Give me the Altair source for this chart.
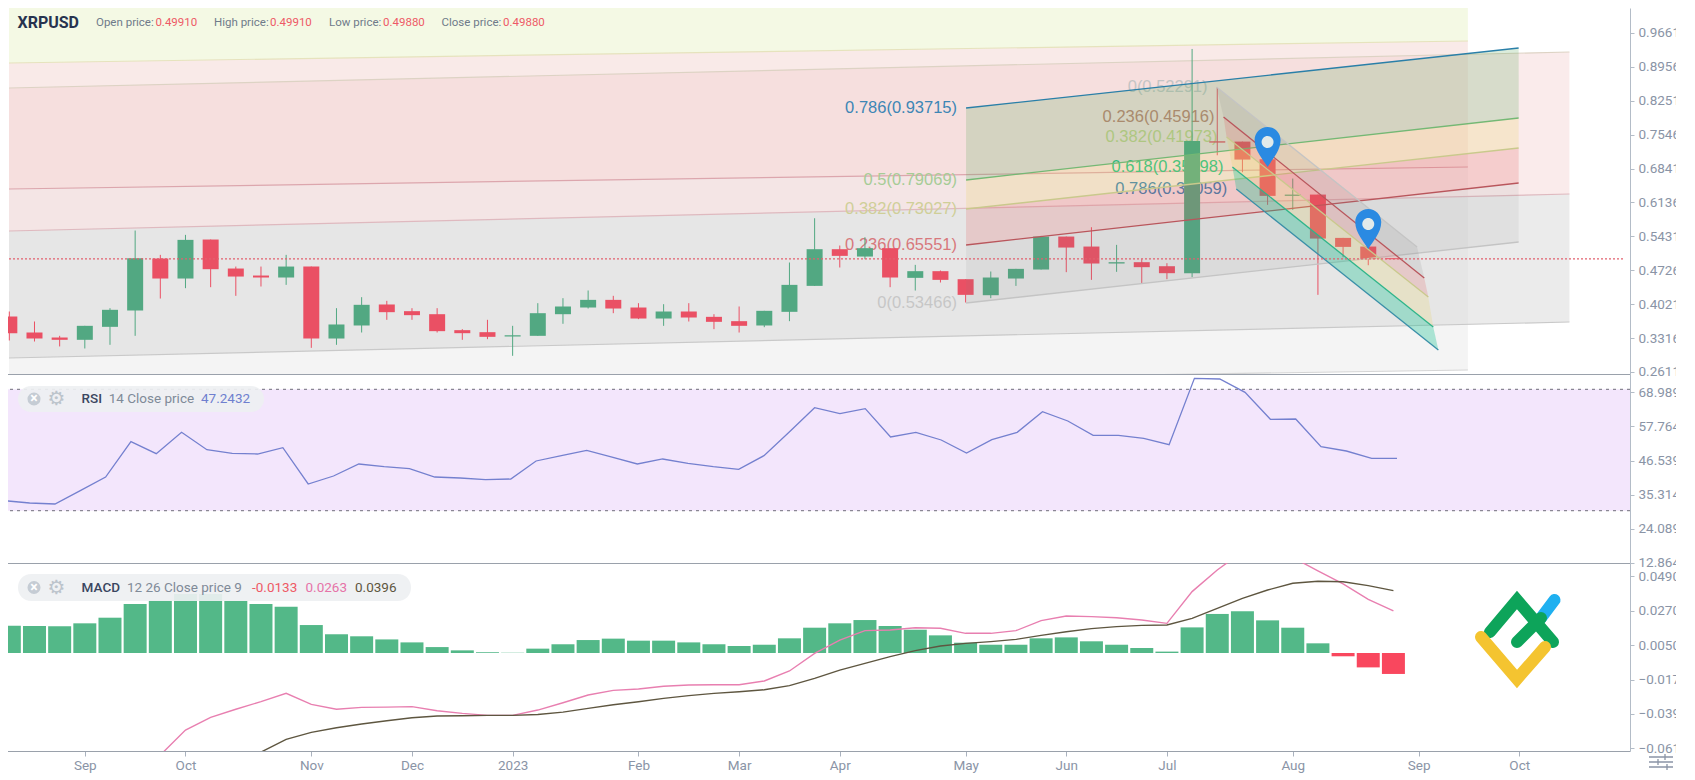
import altair as alt
import pandas as pd

WEEKS = pd.date_range("2022-08-15", periods=56, freq="7D").strftime("%Y-%m-%dT%H:%M:%S").tolist()

OPEN = [.3764,.3431,.3327,.3279,.3549,.3889,.4970,.4554,.5365,.4762,.4616,.4575,.4803,.3306,.3577,.4014,.3875,.3812,.3480,.3438,
        .3348,.3362,.3812,.3951,.4110,.3951,.3722,.3868,.3757,.3667,.3577,.3861,.4401,.5164,.5011,.5185,.4568,.4707,.4540,.4207,
        .4554,.4741,.5427,.5219,.4866,.4894,.4810,.4665,.7409,.7402,.7035,.6273,.6300,.5399,.5219,.4977]
HIGH = [.3868,.3660,.3362,.3570,.3937,.5552,.5046,.5462,.5365,.4803,.4803,.5046,.4803,.3937,.4166,.4090,.3937,.3937,.3501,.3695,
        .3570,.4041,.4145,.4305,.4194,.4041,.4020,.4041,.3812,.3972,.3882,.4887,.5808,.5240,.5414,.5185,.4838,.4721,.4540,.4700,
        .4755,.5441,.5427,.5621,.5254,.4956,.4873,.9329,.8532,.7402,.7035,.6633,.6300,.5399,.5219,.4977]
LOW = [.3265,.3244,.3141,.3099,.3175,.3362,.4138,.4353,.4374,.4194,.4388,.4422,.3112,.3175,.3431,.3695,.3695,.3431,.3279,.3293,
       .2946,.3362,.3612,.3930,.3833,.3709,.3570,.3660,.3501,.3431,.3542,.3667,.4401,.4783,.4956,.4374,.4304,.4471,.4055,.4145,
       .4401,.4741,.4686,.4526,.4693,.4457,.4540,.4582,.7118,.6765,.6086,.5981,.4214,.4997,.4831,.4956]
CLOSE = [.3417,.3306,.3279,.3570,.3903,.4977,.4554,.5358,.4748,.4595,.4575,.4803,.3306,.3598,.4007,.3854,.3792,.3459,.3417,.3341,
         .3376,.3833,.3972,.4110,.3930,.3722,.3868,.3743,.3653,.3570,.3882,.4422,.5164,.5025,.5185,.4575,.4707,.4526,.4214,.4575,
         .4755,.5427,.5198,.4866,.4894,.4790,.4665,.7416,.7381,.7028,.6273,.6300,.5385,.5212,.4956,.4956]

RSI = [33.31,32.54,32.21,36.60,41.10,52.75,48.79,55.82,50.11,48.90,48.68,50.77,38.80,41.43,45.39,44.51,43.85,41.10,40.78,40.23,
       40.45,46.38,48.13,49.89,47.69,45.39,47.04,45.61,44.51,43.63,48.13,55.93,63.95,61.97,63.62,54.28,55.82,53.30,49.01,53.41,
       55.82,62.63,59.56,54.83,54.83,53.84,51.76,73.61,73.39,69.00,60.11,60.21,51.10,49.67,47.26,47.26]

HIST = [.0175,.0173,.0171,.0190,.0226,.0313,.0335,.0378,.0378,.0333,.0313,.0296,.0179,.0120,.0107,.0087,.0068,.0038,.0017,.0005,
        .0001,.0028,.0056,.0083,.0092,.0079,.0079,.0068,.0056,.0045,.0053,.0094,.0162,.0190,.0211,.0173,.0149,.0113,.0066,.0053,
        .0053,.0094,.0100,.0075,.0053,.0032,.0009,.0164,.0250,.0267,.0209,.0162,.0062,-.0021,-.0092,-.0134]
MACD = [-.0834,-.0653,-.0493,-.0412,-.0360,-.0311,-.0258,-.0329,-.0360,-.0348,-.0346,-.0343,-.0369,-.0386,-.0399,-.0399,-.0365,
        -.0318,-.0269,-.0239,-.0230,-.0213,-.0205,-.0203,-.0203,-.0179,-.0115,-.0002,.0083,.0143,.0147,.0162,.0158,.0126,.0126,
        .0143,.0207,.0237,.0233,.0226,.0211,.0190,.0393,.0531,.0649,.0670,.0612,.0525,.0442,.0343,.0269]
SIGNAL = [-.0717,-.0634,-.0553,-.0508,-.0478,-.0454,-.0433,-.0414,-.0403,-.0401,-.0399,-.0399,-.0393,-.0378,-.0354,-.0331,-.0312,
          -.0290,-.0273,-.0258,-.0248,-.0235,-.0209,-.0162,-.0109,-.0066,-.0023,.0015,.0045,.0062,.0073,.0087,.0113,.0136,.0156,
          .0169,.0177,.0179,.0222,.0286,.0350,.0403,.0446,.0459,.0456,.0431,.0399]

X_DOMAIN = ["2022-08-14T21:50:00", "2023-11-07T10:00:00"]
PRICE_DOMAIN = [.2568, 1.0181]
RSI_DOMAIN = [12.77, 75.04]
MACD_DOMAIN = [-.0627, .0576]
PRICE_TICKS = [.9661,.8956,.8251,.7546,.6841,.6136,.5431,.4726,.4021,.3316,.2611]
RSI_TICKS = [68.989,57.764,46.539,35.314,24.089,12.864]
MACD_TICKS = [.049,.027,.005,-.017,-.039,-.061]
MONTH_TICKS = [(2022,9,5),(2022,10,3),(2022,11,7),(2022,12,5),(2023,1,2),(2023,2,6),(2023,3,6),(2023,4,3),
               (2023,5,8),(2023,6,5),(2023,7,3),(2023,8,7),(2023,9,11),(2023,10,9)]
LAST_PRICE = .4962

# large background fans: [x start, x end], then price at both ends
FAN_LEFT = "2022-08-14T21:50:00"
FAN_B_END = "2023-10-22T23:00:00"
FAN_A_END = "2023-09-24T17:00:00"
BIG_BANDS = [
    (FAN_LEFT, FAN_A_END, (.9037,.9495), (1.0181,1.0181), "#eef6d6", .65),   # pale green
    (FAN_LEFT, FAN_A_END, (.6416,.6874), (.9037,.9495), "#f3d6d2", .5),      # pink
    (FAN_LEFT, FAN_A_END, (.2194,.2651), (.6416,.6874), "#e6e6e6", .45),     # grey
    (FAN_LEFT, FAN_B_END, (.5543,.6312), (.8517,.9266), "#f2cfcf", .42),     # pink
    (FAN_LEFT, FAN_B_END, (.2901,.3650), (.5543,.6312), "#d8d8d8", .5),      # grey
]
BIG_LINES = [
    (FAN_LEFT, FAN_A_END, (.9037,.9495), "#e6e3bd"),
    (FAN_LEFT, FAN_B_END, (.8517,.9266), "#ddd3c4"),
    (FAN_LEFT, FAN_A_END, (.6416,.6874), "#dca6ad"),
    (FAN_LEFT, FAN_B_END, (.5543,.6312), "#dfb9bf"),
    (FAN_LEFT, FAN_B_END, (.2901,.3650), "#c9c9c9"),
    (FAN_LEFT, FAN_A_END, (.2194,.2651), "#d5d5d5"),
]

# rising fibonacci fan
F3_X = ("2023-05-08T03:00:00", "2023-10-08T20:00:00")
F3_LEVELS = {"0": (.4045,.5314), "0.236": (.5251,.6541), "0.382": (.6000,.7269), "0.5": (.6603,.7893), "0.786": (.8101,.9349)}
F3_COLORS = {"0": "#c4c4c4", "0.236": "#b9565c", "0.382": "#c9c98c", "0.5": "#74b874", "0.786": "#2a7fa8"}
F3_FILLS = [("0","0.236","#808080",.10), ("0.236","0.382","#e05555",.2), ("0.382","0.5","#e8d060",.22), ("0.5","0.786","#5aa85a",.22)]
F3_TEXT = [("0.786(0.93715)","#3d86b5",.8101), ("0.5(0.79069)","#a6cc96",.6603), ("0.382(0.73027)","#cfcf98",.6000),
           ("0.236(0.65551)","#d8787c",.5251), ("0(0.53466)","#c6c6c6",.4045)]

# falling fibonacci channel: start date, end date, start price, end price
F4 = [("2023-07-16T19:00:00","2023-09-10T14:00:00",.8538,.5210,"#c4c4c4"),
      ("2023-07-18T18:00:00","2023-09-12T14:00:00",.7914,.4565,"#b9565c"),
      ("2023-07-19T14:00:00","2023-09-13T17:00:00",.7498,.4170,"#c9c98c"),
      ("2023-07-21T05:00:00","2023-09-15T02:00:00",.6874,.3546,"#2fb58a"),
      ("2023-07-22T07:00:00","2023-09-16T12:00:00",.6416,.3067,"#3a8fa8")]
F4_FILLS = ["#808080","#e05555","#e8d060","#10c090"]
F4_OP = [.14,.2,.22,.32]
F4_TEXT = ["0(0.52291)","0.236(0.45916)","0.382(0.41973)","0.618(0.35998)","0.786(0.31059)"]
F4_TEXT_COL = ["#c4c4c4","#c08272","#c6cf8c","#22c084","#3a80b0"]

PIN_X = ["2023-07-31T00:00:00","2023-08-28T00:00:00"]
PIN_Y = [.6874,.5168]
PIN_PATH = "M0,0 C-0.2,-0.35 -0.65,-0.8 -0.65,-1.35 A0.65,0.65 0 1 1 0.65,-1.35 C0.65,-0.8 0.2,-0.35 0,0 Z"
HOLE_PATH = "M-0.3,-1.25 A0.3,0.3 0 1 1 0.3,-1.25 A0.3,0.3 0 1 1 -0.3,-1.25 Z"

FONT = "Roboto"
AXC = "#8a94a6"
LINEC = "#9aa1ab"
ONE = pd.DataFrame({"a": [0]})

X_SCALE = alt.Scale(domain=X_DOMAIN)
hidden_x = alt.Axis(labels=False, ticks=False, grid=False, title=None, domainColor=LINEC)
shown_x = alt.Axis(
    values=[alt.DateTime(year=y, month=m, date=d) for y, m, d in MONTH_TICKS],
    labelExpr="timeFormat(datum.value,'%b')=='Jan' ? '2023' : timeFormat(datum.value,'%b')",
    labelColor=AXC, labelFont=FONT, labelFontSize=13.5, labelPadding=2, tickColor="#aab2be", tickSize=5,
    grid=False, title=None, domainColor=LINEC, labelOverlap=False, labelFlush=False,
)


def xe(axis, field="x"):
    return alt.X(f"{field}:T", scale=X_SCALE, axis=axis)


def ye(domain, ticks, fmt, field="y"):
    return alt.Y(f"{field}:Q", scale=alt.Scale(domain=domain, nice=False, zero=False), axis=alt.Axis(
        values=ticks, format=fmt, orient="right", grid=False, title=None, domainColor="#b3bcc7",
        tickColor="#b3bcc7", tickSize=4, labelColor=AXC, labelFont=FONT, labelFontSize=13.5, labelPadding=4,
        labelOverlap=False, labelFlush=False))


def ann(text, x, y, color, size=13.5, weight="normal", font=FONT, align="left"):
    return alt.Chart(ONE).mark_text(text=text, color=color, fontSize=size, fontWeight=weight, font=font,
                                    align=align, baseline="middle").encode(x=alt.value(x), y=alt.value(y))


def chip(x1, x2, y1, y2):
    return alt.Chart(ONE).mark_rect(color="#eef0f2", opacity=.92, cornerRadius=13).encode(
        x=alt.value(x1), x2=alt.value(x2), y=alt.value(y1), y2=alt.value(y2))


def icons(y):
    return [
        alt.Chart(ONE).mark_circle(color="#c5ccd4", size=170, opacity=1).encode(x=alt.value(30), y=alt.value(y)),
        ann("×", 30, y, "#ffffff", 14, "bold", align="center"),
        ann("⚙", 52.5, y, "#bcc4cc", 20, font="DejaVu Sans", align="center"),
    ]


# ---------- price pane
pe = lambda field="y": ye(PRICE_DOMAIN, PRICE_TICKS, ".5f", field)
ax = hidden_x
layers = []
for x0, x1, lo, hi, col, op in BIG_BANDS:
    df = pd.DataFrame({"x": [x0, x1], "y": lo, "y2": hi})
    layers.append(alt.Chart(df).mark_area(color=col, opacity=op, clip=True, line=False).encode(xe(ax), pe(), y2="y2:Q"))
for x0, x1, ys, col in BIG_LINES:
    df = pd.DataFrame({"x": [x0, x1], "y": ys})
    layers.append(alt.Chart(df).mark_line(color=col, strokeWidth=1.2, clip=True).encode(xe(ax), pe()))

# level labels sit under the candles
for text, col, price in F3_TEXT:
    df = pd.DataFrame({"x": [F3_X[0]], "y": [price]})
    layers.append(alt.Chart(df).mark_text(text=text, color=col, font="Liberation Sans", fontSize=16.5, align="right",
                                          baseline="middle", dx=-9).encode(xe(ax), pe()))
for (x0, x1, y0, y1, _), text, col in zip(F4, F4_TEXT, F4_TEXT_COL):
    df = pd.DataFrame({"x": [x0], "y": [y0]})
    layers.append(alt.Chart(df).mark_text(text=text, color=col, font="Liberation Sans", fontSize=16.5, align="right",
                                          baseline="middle", dx=-9).encode(xe(ax), pe()))

candles = pd.DataFrame({"x": WEEKS, "o": OPEN, "h": HIGH, "l": LOW, "c": CLOSE})
candles["col"] = ["#52a882" if c >= o else "#ea5064" for o, c in zip(OPEN, CLOSE)]
layers.append(alt.Chart(candles).mark_rule(strokeWidth=1, clip=True).encode(
    xe(ax), pe("l"), y2="h:Q", color=alt.Color("col:N", scale=None, legend=None)))
layers.append(alt.Chart(candles).mark_bar(size=16, clip=True).encode(
    xe(ax), pe("o"), y2="c:Q", color=alt.Color("col:N", scale=None, legend=None)))

# rising fan
for lo, hi, col, op in F3_FILLS:
    df = pd.DataFrame({"x": list(F3_X), "y": F3_LEVELS[lo], "y2": F3_LEVELS[hi]})
    layers.append(alt.Chart(df).mark_area(color=col, opacity=op, clip=True).encode(xe(ax), pe(), y2="y2:Q"))
for k, ys in F3_LEVELS.items():
    df = pd.DataFrame({"x": list(F3_X), "y": ys})
    layers.append(alt.Chart(df).mark_line(color=F3_COLORS[k], strokeWidth=1.3, clip=True).encode(xe(ax), pe()))

# falling channel
for i, (col, op) in enumerate(zip(F4_FILLS, F4_OP)):
    a, b = F4[i], F4[i + 1]
    df = pd.DataFrame({"x": [a[0], a[1], b[1], b[0]], "y": [a[2], a[3], b[3], b[2]], "n": [0, 1, 2, 3]})
    layers.append(alt.Chart(df).mark_line(fill=col, fillOpacity=op, strokeWidth=0, interpolate="linear-closed", clip=True)
                  .encode(xe(ax), pe(), order="n:Q"))
for x0, x1, y0, y1, col in F4:
    df = pd.DataFrame({"x": [x0, x1], "y": [y0, y1]})
    layers.append(alt.Chart(df).mark_line(color=col, strokeWidth=1.3, clip=True).encode(xe(ax), pe()))

# last price
df = pd.DataFrame({"x": X_DOMAIN, "y": [LAST_PRICE, LAST_PRICE]})
layers.append(alt.Chart(df).mark_line(color="#e2606e", strokeWidth=1.3, strokeDash=[2, 2], clip=True).encode(xe(ax), pe()))

# pins
df = pd.DataFrame({"x": PIN_X, "y": PIN_Y})
layers.append(alt.Chart(df).mark_point(shape=PIN_PATH, size=1600, filled=True, color="#2a8ae2", opacity=1).encode(xe(ax), pe()))
layers.append(alt.Chart(df).mark_point(shape=HOLE_PATH, size=1600, filled=True, color="#e2eaea", opacity=1).encode(xe(ax), pe()))

# header
layers += [
    ann("XRPUSD", 13.5, 14.7, "#27334f", 16, "bold"),
    ann("Open price:", 92, 14.7, "#6f7b8a", 11.5),
    ann("0.49910", 151.4, 14.7, "#ee5a66", 11.5),
    ann("High price:", 210, 14.7, "#6f7b8a", 11.5),
    ann("0.49910", 266, 14.7, "#ee5a66", 11.5),
    ann("Low price:", 325, 14.7, "#6f7b8a", 11.5),
    ann("0.49880", 379, 14.7, "#ee5a66", 11.5),
    ann("Close price:", 437.5, 14.7, "#6f7b8a", 11.5),
    ann("0.49880", 499, 14.7, "#ee5a66", 11.5),
]
price_pane = alt.layer(*layers).properties(width=1626, height=366)

# ---------- RSI pane
re = lambda: ye(RSI_DOMAIN, RSI_TICKS, ".4f")
rsi_df = pd.DataFrame({"x": WEEKS, "y": RSI})
band = pd.DataFrame({"x": X_DOMAIN, "y": [30, 30], "y2": [70, 70]})
limit = pd.DataFrame({"y": [30, 70]})
rsi_layers = [
    alt.Chart(band).mark_area(color="#f3e6fc", clip=True).encode(xe(ax), re(), y2="y2:Q"),
    alt.Chart(limit).mark_rule(color="#8a8794", strokeWidth=1.3, strokeDash=[3, 4]).encode(re()),
    alt.Chart(rsi_df).mark_line(color="#7480cf", strokeWidth=1.3, clip=True).encode(xe(ax), re()),
    chip(14, 260, 12, 38),
    *icons(25),
    ann("RSI", 77.6, 25, "#3a4660", 13.5, 500),
    ann("14 Close price", 104.7, 25, "#7f8a98"),
    ann("47.2432", 197, 25, "#6f7fcf"),
]
rsi_pane = alt.layer(*rsi_layers).properties(width=1626, height=189)

# ---------- MACD pane
me = lambda field="y": ye(MACD_DOMAIN, MACD_TICKS, ".4f", field)
ax2 = shown_x
hist_df = pd.DataFrame({"x": WEEKS, "y": HIST})
hist_df["col"] = ["#53b888" if v >= 0 else "#f9475e" for v in HIST]
hist_df["zero"] = 0.0
macd_df = pd.DataFrame({"x": WEEKS[5:], "y": MACD})
sig_df = pd.DataFrame({"x": WEEKS[9:], "y": SIGNAL})


def logo(path, col):
    return alt.Chart(ONE).mark_point(shape=path, size=4, filled=False, stroke=col, strokeWidth=12, opacity=1,
                                     strokeCap="round", strokeJoin="miter").encode(x=alt.value(1513), y=alt.value(77))


macd_layers = [
    alt.Chart(hist_df).mark_bar(size=23, clip=True).encode(xe(ax2), me(), y2="zero:Q", color=alt.Color("col:N", scale=None, legend=None)),
    alt.Chart(macd_df).mark_line(color="#e87fb0", strokeWidth=1.4, clip=True).encode(xe(ax2), me()),
    alt.Chart(sig_df).mark_line(color="#5e5640", strokeWidth=1.4, clip=True).encode(xe(ax2), me()),
    chip(14, 407, 11, 38),
    *icons(24.5),
    ann("MACD", 77.6, 24.5, "#3a4660", 13.5, 500),
    ann("12 26 Close price 9", 123, 24.5, "#7f8a98"),
    ann("-0.0133", 248, 24.5, "#ee5a66"),
    ann("0.0263", 301.5, 24.5, "#e673a8"),
    ann("0.0396", 351, 24.5, "#5e5640"),
    logo("M24,-22 L37.5,-40", "#1fb0f0"),
    logo("M-27,-8 L0,-40 L36,2 M0,2 L24,-22", "#0da45a"),
    logo("M-36,-3 L0,39 L28,7", "#f4c430"),
    alt.Chart(ONE).mark_point(shape="M-12,-5 L12,-5 M-12,0 L12,0 M-12,5 L12,5 M4,-8 L4,-2 M-3,-3 L-3,3 M6,2 L6,8",
                              size=4, filled=False, stroke="#8a94a6", strokeWidth=1.3, opacity=1).encode(
        x=alt.value(1657), y=alt.value(199)),
]
macd_pane = alt.layer(*macd_layers).properties(width=1626, height=188)

chart = alt.vconcat(price_pane, rsi_pane, macd_pane, spacing=0, bounds="flush").properties(
    padding={"left": -5, "top": 0, "right": -12, "bottom": 0}, background="white"
).configure_view(stroke=None)

chart.save("out.html", embed_options={"renderer": "svg", "actions": False})
